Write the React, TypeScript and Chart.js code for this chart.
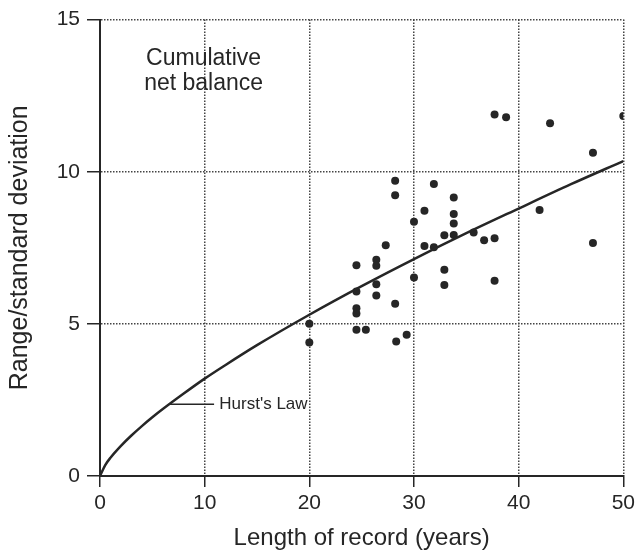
import React, { useEffect, useRef } from "react";
import { Chart, registerables } from "chart.js";

Chart.register(...registerables);

// Observed records: length of record (years) and range / standard deviation
const recordYears = [
  28.2, 28.2, 31.9, 33.8, 33.8, 33.8, 31.0, 30.0, 32.9, 33.8, 35.7, 31.0, 31.9, 27.3,
  24.5, 26.4, 26.4, 32.9, 32.9, 30.0, 24.5, 26.4, 26.4, 24.5, 24.5, 28.2, 20.0, 24.5,
  25.4, 20.0, 28.3, 29.3, 37.7, 38.8, 43.0, 50.0, 47.1, 42.0, 36.7, 37.7, 37.7, 47.1,
];
const rangeOverSD = [
  9.7, 9.23, 9.6, 9.15, 8.61, 8.3, 8.72, 8.36, 7.91, 7.92, 8.0, 7.56, 7.52, 7.58,
  6.93, 7.11, 6.91, 6.78, 6.28, 6.52, 6.06, 6.3, 5.93, 5.51, 5.34, 5.66, 5.0, 4.81,
  4.81, 4.39, 4.42, 4.64, 11.88, 11.79, 11.59, 11.83, 10.62, 8.74, 7.75, 7.81, 6.42, 7.66,
];

// Hurst's Law curve
const hurstYears = [0, 0.5, 1, 2, 3, 4, 5, 6, 8, 10, 12, 15, 20, 25, 30, 35, 40, 45, 50];
const hurstValues = [
  0, 0.36, 0.6, 0.99, 1.33, 1.64, 1.93, 2.2, 2.71, 3.2, 3.65, 4.3, 5.3, 6.24, 7.13, 7.98,
  8.79, 9.59, 10.35,
];

const xTicks = [0, 10, 20, 30, 40, 50];
const yTicks = [0, 5, 10, 15];

const FONT = '"Liberation Sans", Arial, Helvetica, sans-serif';
const INK = "#262626";

const annotationPlugin = {
  id: "annotations",
  afterDatasetsDraw(chart: any) {
    const { ctx, scales } = chart;
    const xs = scales.x;
    const ys = scales.y;
    ctx.save();
    ctx.fillStyle = INK;
    ctx.font = `23px ${FONT}`;
    ctx.textAlign = "center";
    ctx.textBaseline = "middle";
    const cx = xs.getPixelForValue(9.9);
    ctx.fillText("Cumulative", cx, ys.getPixelForValue(13.72));
    ctx.fillText("net balance", cx, ys.getPixelForValue(12.9));

    // Hurst's Law label with leader line
    const ly = ys.getPixelForValue(2.36);
    ctx.strokeStyle = INK;
    ctx.lineWidth = 1.5;
    ctx.beginPath();
    ctx.moveTo(xs.getPixelForValue(6.6), ly);
    ctx.lineTo(xs.getPixelForValue(10.9), ly);
    ctx.stroke();
    ctx.font = `17px ${FONT}`;
    ctx.textAlign = "left";
    ctx.fillText("Hurst's Law", xs.getPixelForValue(11.4), ly);
    ctx.restore();
  },
};

export default function App() {
  const canvasRef = useRef<HTMLCanvasElement | null>(null);

  useEffect(() => {
    if (!canvasRef.current) return;
    const scatter = recordYears.map((x, i) => ({ x, y: rangeOverSD[i] }));
    const curve = hurstYears.map((x, i) => ({ x, y: hurstValues[i] }));

    const chart = new Chart(canvasRef.current, {
      type: "scatter",
      data: {
        datasets: [
          {
            type: "line",
            label: "Hurst's Law",
            data: curve,
            borderColor: INK,
            borderWidth: 2.5,
            pointRadius: 0,
            fill: false,
            cubicInterpolationMode: "monotone",
          } as any,
          {
            label: "Cumulative net balance",
            data: scatter,
            backgroundColor: INK,
            borderWidth: 0,
            pointRadius: 4,
          },
        ],
      },
      plugins: [annotationPlugin],
      options: {
        animation: false,
        responsive: true,
        maintainAspectRatio: false,
        layout: { padding: { top: 19, right: 14, left: 0, bottom: 0 } },
        plugins: {
          legend: { display: false },
          tooltip: { enabled: false },
        },
        scales: {
          x: {
            type: "linear",
            min: 0,
            max: 50,
            afterBuildTicks: (scale: any) => {
              scale.ticks = xTicks.map((v) => ({ value: v }));
            },
            afterFit: (scale: any) => {
              scale.height = 80;
            },
            ticks: {
              color: INK,
              font: { family: FONT, size: 21 },
              padding: 4,
              maxRotation: 0,
            },
            grid: {
              color: "#444",
              lineWidth: 1.5,
              drawTicks: true,
              tickLength: 11,
              tickColor: INK,
              tickWidth: 1.5,
            },
            border: { display: true, color: INK, width: 2, dash: [1.5, 1.5] },
            title: {
              display: true,
              text: "Length of record (years)",
              color: INK,
              font: { family: FONT, size: 24 },
              padding: { top: 0, bottom: 3 },
            },
          },
          y: {
            type: "linear",
            min: 0,
            max: 15,
            afterBuildTicks: (scale: any) => {
              scale.ticks = yTicks.map((v) => ({ value: v }));
            },
            afterFit: (scale: any) => {
              scale.width = 100;
            },
            ticks: {
              color: INK,
              font: { family: FONT, size: 21 },
              padding: 7,
            },
            grid: {
              color: "#444",
              lineWidth: 1.5,
              drawTicks: true,
              tickLength: 13,
              tickColor: INK,
              tickWidth: 1.5,
            },
            border: { display: true, color: INK, width: 2, dash: [1.5, 1.5] },
            title: {
              display: true,
              text: "Range/standard deviation",
              color: INK,
              font: { family: FONT, size: 25 },
              padding: { top: 5, bottom: 0 },
            },
          },
        },
      } as any,
    });
    return () => chart.destroy();
  }, []);

  return (
    <div style={{ position: "fixed", left: 0, top: 0, width: 639, height: 556, background: "#fff" }}>
      <canvas ref={canvasRef} />
    </div>
  );
}
